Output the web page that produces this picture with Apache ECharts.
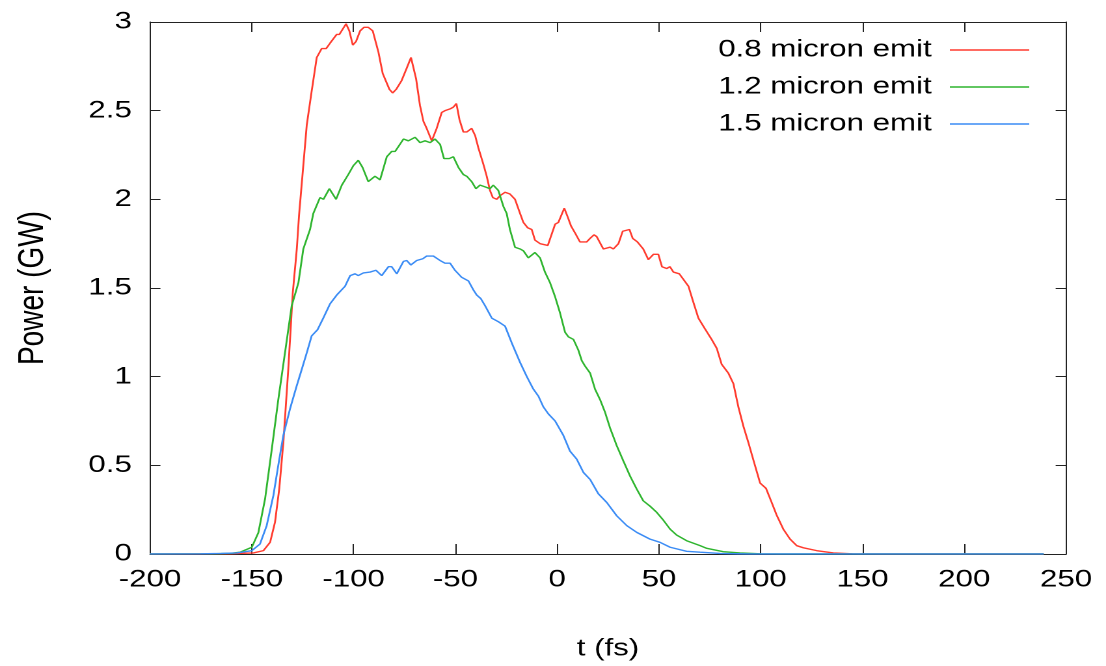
<!DOCTYPE html>
<html><head><meta charset="utf-8">
<script src="https://cdn.jsdelivr.net/npm/echarts@6/dist/echarts.min.js"></script>
<style>
html,body{margin:0;padding:0;background:#fff;overflow:hidden;}
#wrap{width:1106px;height:666px;overflow:hidden;}
#chart{width:850px;height:666px;transform:scaleX(1.30118);transform-origin:0 0;}
</style></head><body>
<div id="wrap"><div id="chart"></div></div>
<script>
// Series names (legend)
const seriesNames = ['0.8 micron emit', '1.2 micron emit', '1.5 micron emit'];
const seriesColors = ['#ff3b2e', '#2fb52f', '#3b8cf5'];

// Axis ticks
const xTicks = { min: -200, max: 250, step: 50 };
const yTicks = { min: 0, max: 3, step: 0.5 };

// 0.8 micron emit : time (fs) and power (GW)
const redT = [-200,-170,-160,-155,-149.2,-144.3,-141.0,-138.6,-136.5,-134.5,-132.1,-129.9,-127.9,-126.8,-123.0,-120.6,-118.1,-115.7,-113.5,-111.6,-108.3,-107.0,-103.7,-102.1,-100.4,-98.8,-96.8,-94.9,-92.8,-90.6,-87.8,-85.7,-84.6,-82.4,-80.8,-79.1,-76.4,-73.9,-71.8,-69.3,-67.4,-65.7,-64.1,-61.6,-59.2,-56.7,-55.1,-52.6,-51.0,-49.5,-48.0,-46.1,-44.4,-42.0,-40.3,-38.7,-36.3,-34.6,-33.0,-31.6,-29.7,-28.1,-25.6,-23.2,-20.7,-18.2,-16.6,-14.5,-12.5,-10.9,-8.4,-4.6,-1.0,0.6,3.5,5.2,6.8,8.8,11.2,14.5,16.2,18.1,19.4,22.7,26.0,27.6,30.1,32.2,35.5,37.1,39.4,42.3,44.8,47.3,49.7,51.5,53.8,55.4,57.1,60.0,64.5,66.9,69.4,72.6,75.9,78.4,80.8,84.1,86.6,89.0,91.5,93.9,96.4,99.7,102.6,105.4,107.8,111.1,114.4,117.7,121.0,127.5,135.7,145,160,239];
const redP = [0,0,0.002,0.004,0.006,0.019,0.066,0.18,0.37,0.63,1.04,1.47,1.72,1.91,2.42,2.61,2.80,2.85,2.85,2.88,2.93,2.93,2.99,2.95,2.87,2.89,2.95,2.97,2.97,2.95,2.83,2.71,2.68,2.62,2.60,2.62,2.67,2.74,2.80,2.68,2.53,2.44,2.40,2.33,2.40,2.49,2.50,2.51,2.52,2.54,2.45,2.38,2.38,2.40,2.36,2.29,2.20,2.13,2.05,2.01,2.00,2.02,2.04,2.03,2.00,1.92,1.87,1.84,1.83,1.77,1.75,1.74,1.86,1.87,1.95,1.90,1.85,1.81,1.76,1.76,1.78,1.80,1.79,1.72,1.73,1.72,1.75,1.82,1.83,1.78,1.76,1.72,1.66,1.69,1.69,1.62,1.61,1.62,1.59,1.58,1.51,1.42,1.33,1.27,1.21,1.16,1.07,1.02,0.96,0.83,0.72,0.63,0.53,0.40,0.37,0.29,0.22,0.14,0.084,0.047,0.035,0.019,0.006,0.001,0,0];

// 1.2 micron emit
const greenT = [-200,-170,-160,-155.8,-150.0,-146.8,-143.5,-140.2,-137.0,-133.7,-130.4,-127.1,-124.7,-121.4,-119.8,-116.5,-114.8,-111.9,-108.6,-105.8,-102.6,-100.1,-97.7,-95.6,-92.8,-89.5,-87.0,-83.7,-81.3,-79.6,-75.5,-73.1,-69.8,-67.4,-64.9,-62.4,-60.0,-57.5,-55.6,-53.0,-51.0,-48.5,-46.1,-44.4,-42.0,-39.9,-37.9,-35.4,-33.0,-31.4,-28.9,-26.4,-24.8,-23.2,-20.7,-18.2,-16.6,-14.2,-10.9,-8.4,-6.0,-3.5,-1.0,1.4,3.9,5.5,8.0,10.4,12.1,13.7,16.2,18.6,21.1,23.5,26.0,29.3,32.5,35.8,39.1,42.3,45.6,48.9,52.2,55.5,58.7,63.6,70.2,73.5,81.6,89.8,100,110,239];
const greenP = [0,0.001,0.004,0.01,0.038,0.12,0.31,0.59,0.87,1.135,1.40,1.53,1.72,1.83,1.92,2.01,2.00,2.06,2.00,2.08,2.14,2.19,2.22,2.18,2.10,2.13,2.11,2.24,2.27,2.27,2.34,2.33,2.35,2.32,2.33,2.32,2.34,2.31,2.23,2.23,2.24,2.18,2.14,2.13,2.10,2.06,2.08,2.07,2.06,2.08,2.05,1.96,1.92,1.83,1.73,1.72,1.71,1.67,1.70,1.67,1.59,1.53,1.45,1.36,1.25,1.225,1.21,1.15,1.09,1.06,1.02,0.93,0.87,0.80,0.71,0.61,0.525,0.44,0.366,0.30,0.27,0.235,0.19,0.14,0.107,0.075,0.047,0.032,0.013,0.006,0.001,0,0];

// 1.5 micron emit
const blueT = [-200,-175,-165,-157.4,-150.0,-146.0,-142.7,-139.4,-137.0,-134.5,-131.2,-127.9,-125.5,-123.0,-120.6,-117.7,-114.9,-111.6,-108.3,-104.2,-101.7,-99.3,-97.7,-95.2,-91.9,-89.0,-86.2,-82.9,-81.3,-78.8,-75.5,-73.9,-71.9,-69.0,-66.0,-64.1,-60.8,-57.5,-55.1,-52.6,-50.2,-46.9,-43.6,-41.2,-39.5,-37.5,-35.4,-32.1,-28.9,-25.6,-22.3,-18.2,-14.9,-11.7,-9.2,-6.8,-4.3,-1.0,3.0,6.3,9.6,12.9,16.2,20.2,24.4,29.3,34.2,39.1,45.6,50.5,55.5,63.6,70.2,80,95,239];
const blueP = [0,0.001,0.003,0.006,0.019,0.056,0.16,0.33,0.50,0.67,0.82,0.95,1.04,1.135,1.23,1.265,1.33,1.41,1.46,1.51,1.57,1.58,1.57,1.585,1.59,1.60,1.57,1.62,1.62,1.58,1.65,1.655,1.63,1.655,1.665,1.68,1.68,1.655,1.64,1.64,1.60,1.56,1.54,1.49,1.46,1.44,1.40,1.33,1.31,1.285,1.19,1.08,1.00,0.93,0.89,0.83,0.79,0.75,0.67,0.58,0.535,0.46,0.42,0.34,0.29,0.215,0.16,0.122,0.084,0.066,0.038,0.015,0.01,0.003,0,0];

const allT = [redT, greenT, blueT];
const allP = [redP, greenP, blueP];

const FONT = 'Liberation Sans, Arial, sans-serif';
const axisColor = '#222';

const chart = echarts.init(document.getElementById('chart'), null, { renderer: 'canvas', devicePixelRatio: 2 });

function xAxisDef(pos, main) {
  return {
    type: 'value', position: pos,
    min: xTicks.min, max: xTicks.max, interval: xTicks.step,
    axisLine: { show: true, onZero: false, lineStyle: { color: axisColor, width: 1 } },
    axisTick: { show: true, inside: true, length: 10, lineStyle: { color: axisColor } },
    axisLabel: { show: main, fontSize: 24, color: '#000', fontFamily: FONT, margin: 14 },
    splitLine: { show: false },
    name: main ? 't (fs)' : '', nameLocation: 'middle', nameGap: 83,
    nameTextStyle: { fontSize: 24, color: '#000', fontFamily: FONT }
  };
}
function yAxisDef(pos, main) {
  return {
    type: 'value', position: pos,
    min: yTicks.min, max: yTicks.max, interval: yTicks.step,
    axisLine: { show: true, onZero: false, lineStyle: { color: axisColor, width: 1 } },
    axisTick: { show: true, inside: true, length: 8, lineStyle: { color: axisColor } },
    axisLabel: { show: main, fontSize: 24, color: '#000', fontFamily: FONT, margin: 14,
      formatter: v => String(v) },
    splitLine: { show: false },
    name: main ? 'Power (GW)' : '', nameLocation: 'middle', nameGap: 76,
    nameTextStyle: { fontSize: 28, color: '#000', fontFamily: FONT }
  };
}

chart.setOption({
  animation: false,
  backgroundColor: '#fff',
  grid: { left: 115.3, right: 30.7, top: 22, bottom: 111, containLabel: false },
  legend: {
    orient: 'vertical', right: 54, top: 33, align: 'right',
    icon: 'rect', itemWidth: 61, itemHeight: 1.6, itemGap: 13,
    textStyle: { fontSize: 24, color: '#000', fontFamily: FONT, padding: [0, 9, 0, 0], lineHeight: 24 },
    data: seriesNames
  },
  xAxis: [xAxisDef('bottom', true), xAxisDef('top', false)],
  yAxis: [yAxisDef('left', true), yAxisDef('right', false)],
  series: seriesNames.map((name, i) => ({
    name, type: 'line', xAxisIndex: 0, yAxisIndex: 0,
    showSymbol: false, symbol: 'none', smooth: false,
    color: seriesColors[i],
    lineStyle: { color: seriesColors[i], width: 1.4 },
    itemStyle: { color: seriesColors[i] },
    data: allT[i].map((t, k) => [t, allP[i][k]]),
    z: 2 + i
  }))
});
</script>
</body></html>
